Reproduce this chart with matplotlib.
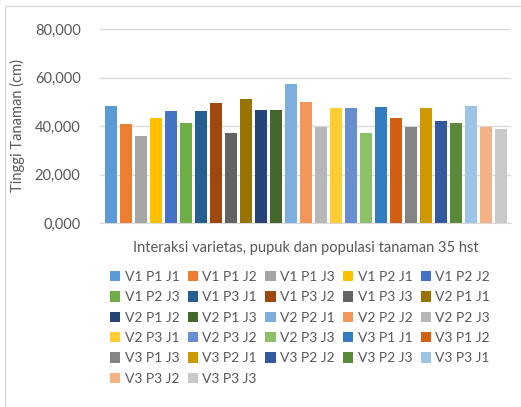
import matplotlib.pyplot as plt
from matplotlib.patches import Rectangle, Patch

# ---- data ----
labels = [
    "V1 P1 J1", "V1 P1 J2", "V1 P1 J3", "V1 P2 J1", "V1 P2 J2", "V1 P2 J3",
    "V1 P3 J1", "V1 P3 J2", "V1 P3 J3", "V2 P1 J1", "V2 P1 J2", "V2 P1 J3",
    "V2 P2 J1", "V2 P2 J2", "V2 P2 J3", "V2 P3 J1", "V2 P3 J2", "V2 P3 J3",
    "V3 P1 J1", "V3 P1 J2", "V3 P1 J3", "V3 P2 J1", "V3 P2 J2", "V3 P2 J3",
    "V3 P3 J1", "V3 P3 J2", "V3 P3 J3",
]
values = [
    48.3, 40.8, 35.9, 43.3, 46.2, 41.2,
    46.2, 49.5, 37.1, 51.1, 46.6, 46.6,
    57.3, 49.9, 39.6, 47.4, 47.4, 37.1,
    47.8, 43.3, 39.6, 47.4, 42.1, 41.2,
    48.2, 39.6, 38.8,
]
values = [v * 1000 for v in values]
colors = [
    "#5B9BD5", "#ED7D31", "#A5A5A5", "#FFC000", "#4472C4", "#70AD47",
    "#255E91", "#9E480E", "#636363", "#997300", "#264478", "#43682B",
    "#7CAFDD", "#F1975A", "#B7B7B7", "#FFCD33", "#698ED0", "#8CC168",
    "#327DC2", "#D26012", "#848484", "#CC9A00", "#335AA1", "#5A8A39",
    "#9DC3E6", "#F4B183", "#C9C9C9",
]
yticks = [0, 20000, 40000, 60000, 80000]
ytick_labels = ["0,000", "20,000", "40,000", "60,000", "80,000"]

TXT = "#595959"
FS = 10.5
plt.rcParams["font.family"] = ["Lato", "DejaVu Sans"]

W, H = 521, 407
fig = plt.figure(figsize=(W / 100, H / 100), dpi=100)

# chart area border
fig.patches.append(Rectangle((5 / W, -0.1), 1.2, 1 - 6 / H + 0.1,
                             transform=fig.transFigure, fill=False,
                             edgecolor="#D9D9D9", linewidth=1.0))

ax = fig.add_axes([100 / W, 1 - 223 / H, 411 / W, 194 / H])
x = list(range(len(values)))
ax.bar(x, values, width=0.8, color=colors, zorder=3)
ax.set_xlim(-0.74, 26.7)
ax.set_ylim(0, 80000)
ax.set_yticks(yticks)
ax.set_yticklabels(ytick_labels)
ax.set_xticks([])
ax.tick_params(axis="y", length=0, pad=14, labelsize=FS, labelcolor=TXT)
ax.grid(axis="y", color="#D9D9D9", linewidth=1.0, zorder=0)
for s in ["top", "right", "left"]:
    ax.spines[s].set_visible(False)
ax.spines["bottom"].set_color("#D9D9D9")
ax.set_ylabel("Tinggi Tanaman (cm)", fontsize=FS, color=TXT, labelpad=7)
ax.set_xlabel("Interaksi varietas, pupuk dan populasi tanaman 35 hst",
              fontsize=FS, color=TXT, labelpad=13)

# legend: Excel fills row by row, matplotlib column by column
ncol, nrow = 5, 6
order = [r * ncol + c for c in range(ncol) for r in range(nrow) if r * ncol + c < len(labels)]
handles = [Patch(facecolor=colors[i], edgecolor="none") for i in order]
fig.legend(handles, [labels[i] for i in order], ncol=ncol, loc="upper left",
           bbox_to_anchor=(110 / W, 1 - 271 / H), frameon=False,
           fontsize=10, labelcolor=TXT, handlelength=0.75, handleheight=0.75,
           handletextpad=0.3, columnspacing=0.6, labelspacing=0.6,
           borderpad=0.0, borderaxespad=0.0)

fig.savefig("out.png", dpi=100)
